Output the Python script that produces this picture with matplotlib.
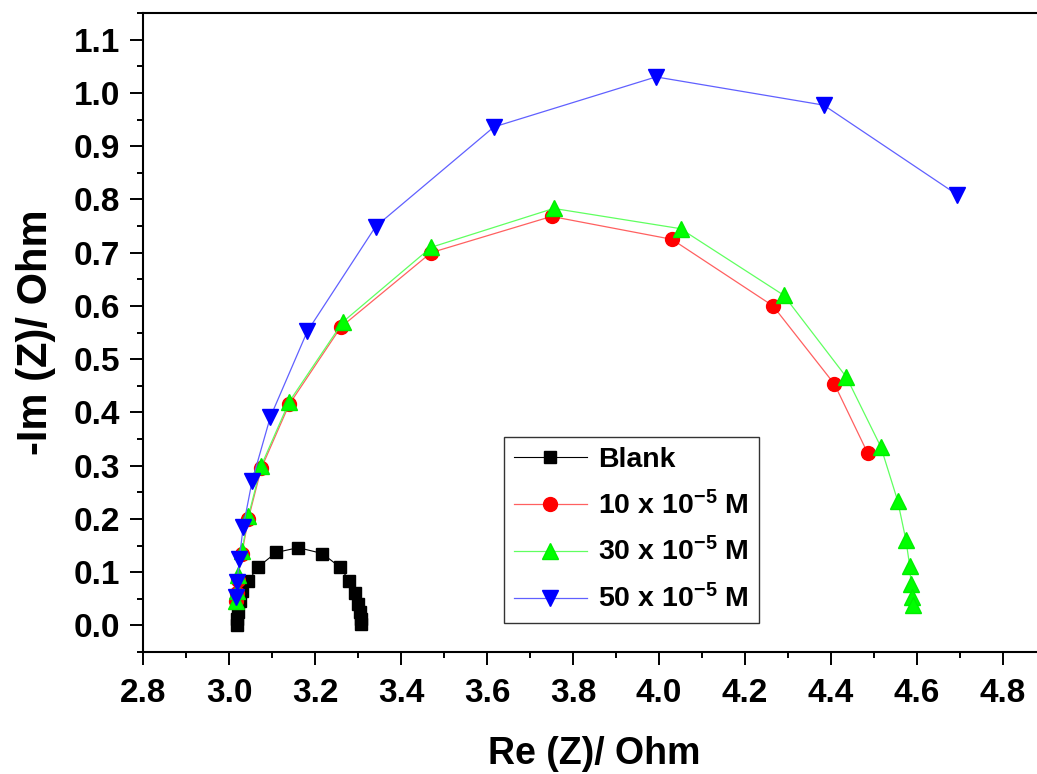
import matplotlib
matplotlib.use("Agg")
from matplotlib import pyplot as plt
import numpy as np

plt.rcParams['font.family'] = ['Liberation Sans', 'DejaVu Sans']
plt.rcParams['font.weight'] = 'bold'
plt.rcParams['mathtext.fontset'] = 'custom'
plt.rcParams['mathtext.bf'] = 'Liberation Sans:bold'
plt.rcParams['mathtext.rm'] = 'Liberation Sans:bold'
plt.rcParams['mathtext.default'] = 'bf'

# Nyquist data: Re(Z) and -Im(Z) in Ohm
blank_re = [3.019, 3.019, 3.020, 3.025, 3.031, 3.045, 3.068, 3.110, 3.161, 3.217,
            3.257, 3.280, 3.292, 3.299, 3.304, 3.306, 3.306]
blank_im = [0.000, 0.012, 0.025, 0.045, 0.064, 0.084, 0.110, 0.137, 0.146, 0.135,
            0.110, 0.084, 0.060, 0.041, 0.026, 0.012, 0.002]

c10_re = [3.017, 3.018, 3.020, 3.030, 3.045, 3.075, 3.140, 3.260, 3.470, 3.750,
          4.030, 4.265, 4.408, 4.485]
c10_im = [0.045, 0.060, 0.085, 0.135, 0.200, 0.295, 0.415, 0.560, 0.700, 0.768,
          0.725, 0.600, 0.453, 0.324]

c30_re = [3.016, 3.018, 3.022, 3.030, 3.045, 3.075, 3.140, 3.265, 3.470, 3.755,
          4.050, 4.290, 4.436, 4.516, 4.555, 4.574, 4.583, 4.586, 4.588, 4.590]
c30_im = [0.045, 0.065, 0.095, 0.140, 0.205, 0.300, 0.420, 0.570, 0.710, 0.783,
          0.745, 0.620, 0.466, 0.335, 0.234, 0.161, 0.112, 0.077, 0.054, 0.038]

c50_re = [3.017, 3.019, 3.024, 3.033, 3.054, 3.096, 3.182, 3.341, 3.616, 3.993,
          4.383, 4.693]
c50_im = [0.054, 0.082, 0.125, 0.185, 0.272, 0.391, 0.552, 0.749, 0.936, 1.030,
          0.977, 0.809]

labels = ['Blank', r'10 x 10$^{-5}$ M', r'30 x 10$^{-5}$ M', r'50 x 10$^{-5}$ M']

fig = plt.figure(figsize=(10.37, 7.74), dpi=100)
ax = fig.add_axes([0.1379, 0.1576, 0.8708, 0.8256])

ax.plot(blank_re, blank_im, '-', color='black', lw=0.8, marker='s', ms=8.5,
        mec='black', mfc='black', label=labels[0])
ax.plot(c10_re, c10_im, '-', color='#ff6060', lw=0.9, marker='o', ms=10,
        mec='#ff0000', mfc='#ff0000', label=labels[1])
ax.plot(c30_re, c30_im, '-', color='#60ff60', lw=0.9, marker='^', ms=11.5,
        mec='#00ee00', mfc='#00ff00', label=labels[2])
ax.plot(c50_re, c50_im, '-', color='#6060ff', lw=0.9, marker='v', ms=11.5,
        mec='#0000ff', mfc='#0000ff', label=labels[3])

ax.set_xlim(2.8, 4.9)
ax.set_ylim(-0.05, 1.15)
ax.set_xticks(np.arange(2.8, 4.81, 0.2))
ax.set_yticks(np.arange(0.0, 1.11, 0.1))
ax.set_xticks(np.arange(2.9, 4.91, 0.2), minor=True)
ax.set_yticks(np.arange(-0.05, 1.16, 0.1), minor=True)
ax.xaxis.set_major_formatter(matplotlib.ticker.FormatStrFormatter('%.1f'))
ax.yaxis.set_major_formatter(matplotlib.ticker.FormatStrFormatter('%.1f'))

ax.tick_params(which='major', direction='out', length=9.5, width=1.4)
ax.tick_params(which='minor', direction='out', length=4.5, width=1.4)
ax.tick_params(axis='y', labelsize=24, pad=7)
ax.tick_params(axis='x', labelsize=24, pad=9)
for lab in ax.get_xticklabels() + ax.get_yticklabels():
    lab.set_fontweight('bold')
for sp in ax.spines.values():
    sp.set_linewidth(1.5)

ax.set_xlabel('Re (Z)/ Ohm', fontsize=27, fontweight='bold', labelpad=20)
ax.set_ylabel('-Im (Z)/ Ohm', fontsize=30, fontweight='bold', labelpad=13)

leg = ax.legend(loc='upper left', bbox_to_anchor=(0.40, 0.3365), fontsize=20.5,
                frameon=True, fancybox=False, edgecolor='black',
                handlelength=2.55, labelspacing=0.62, borderaxespad=0,
                handletextpad=0.4, borderpad=0.35)
leg.get_frame().set_linewidth(1.0)

fig.savefig('out.png', dpi=100)
